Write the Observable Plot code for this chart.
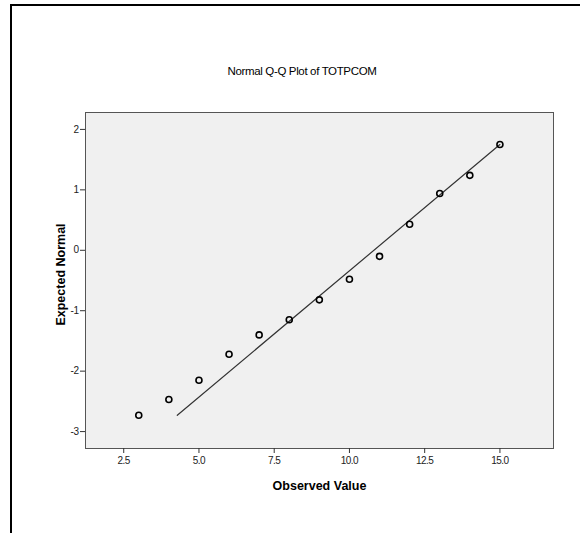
<!DOCTYPE html>
<html>
<head>
<meta charset="utf-8">
<script src="https://cdn.jsdelivr.net/npm/d3@7"></script>
<script src="https://cdn.jsdelivr.net/npm/@observablehq/plot@0.6"></script>
<style>
  html, body { margin: 0; padding: 0; background: #fff; }
  #wrap { position: relative; width: 580px; height: 533px; overflow: hidden; font-family: "Liberation Sans", Arial, sans-serif; }
  #border { position: absolute; left: 10px; top: 4px; right: -5px; bottom: -5px; border-top: 2px solid #000; border-left: 2px solid #000; }
  #title { position: absolute; left: 0; width: 604px; top: 65px; text-align: center; font-size: 11.5px; color: #000; letter-spacing: -0.35px; }
  #chart { position: absolute; left: 0; top: 0; }
  #chart [aria-label$="tick label"] { letter-spacing: -0.5px; }
</style>
</head>
<body>
<div id="wrap">
  <div id="border"></div>
  <div id="title">Normal Q-Q Plot of TOTPCOM</div>
  <div id="chart"></div>
</div>
<script>
// Observed values (x) and expected normal values (y)
const observed = [3, 4, 5, 6, 7, 8, 9, 10, 11, 12, 13, 14, 15];
const expectedNormal = [-2.73, -2.47, -2.15, -1.72, -1.40, -1.15, -0.82, -0.48, -0.10, 0.43, 0.94, 1.24, 1.75];
// Reference line endpoints
const lineX = [4.28, 15.0];
const lineY = [-2.73, 1.75];
// Tick labels
const xTicks = [2.5, 5.0, 7.5, 10.0, 12.5, 15.0];
const yTicks = [-3, -2, -1, 0, 1, 2];
const xLabel = "Observed Value";
const yLabel = "Expected Normal";

const points = observed.map((x, i) => ({x, y: expectedNormal[i]}));
const linePts = lineX.map((x, i) => ({x, y: lineY[i]}));

const chart = Plot.plot({
  width: 580,
  height: 533,
  marginLeft: 85,
  marginRight: 27,
  marginTop: 112,
  marginBottom: 85,
  style: {fontFamily: "'Liberation Sans', Arial, sans-serif", fontSize: "10px", background: "transparent", color: "#222"},
  x: {domain: [1.23, 16.78]},
  y: {domain: [-3.28, 2.28]},
  marks: [
    Plot.frame({fill: "#f0f0f0", stroke: "none"}),
    Plot.line(linePts, {x: "x", y: "y", stroke: "#333", strokeWidth: 1.2}),
    Plot.dot(points, {x: "x", y: "y", r: 3, stroke: "#000", strokeWidth: 1.6, fill: "none"}),
    Plot.frame({stroke: "#555", strokeWidth: 1}),
    Plot.axisX({ticks: xTicks, tickFormat: d3.format(".1f"), tickSize: 5, tickPadding: 3, label: null, stroke: "#333"}),
    Plot.axisY({ticks: yTicks, tickFormat: d => String(d).replace("−", "-"), tickSize: 5, tickPadding: 2, label: null, stroke: "#333"}),
    Plot.text([xLabel], {frameAnchor: "bottom", textAnchor: "middle", dx: 0, dy: 41, fontWeight: "bold", fontSize: 12.5, fill: "#000"}),
    Plot.text([yLabel], {frameAnchor: "left", textAnchor: "middle", dx: -25, dy: -6, rotate: -90, fontWeight: "bold", fontSize: 12.5, fill: "#000"})
  ]
});
document.getElementById("chart").appendChild(chart);
</script>
</body>
</html>
